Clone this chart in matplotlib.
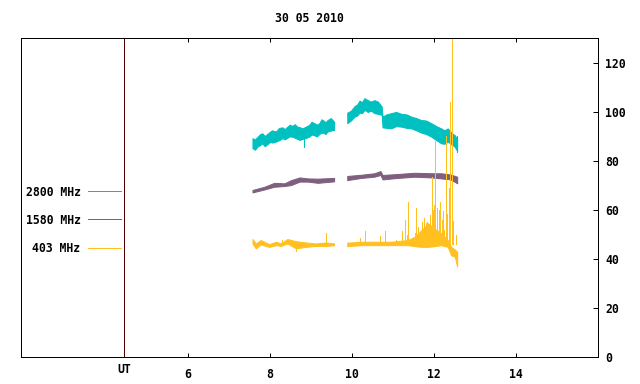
import matplotlib
matplotlib.use("Agg")
import matplotlib.pyplot as plt
from matplotlib.lines import Line2D
from matplotlib.transforms import blended_transform_factory

# ---------------- data ----------------
title = "30 05 2010"
series_names = ["2800 MHz", "1580 MHz", "403 MHz"]
series_colors = ["#00c0c0", "#7f5f7f", "#ffc020"]

xticks = [6, 8, 10, 12, 14]
yticks = [0, 20, 40, 60, 80, 100, 120]
ut_time = 4.45

# 2800 MHz noisy band: two segments (time, upper, lower)
c1_t = [7.57, 7.63, 7.70, 7.76, 7.81, 7.87, 7.93, 8.00, 8.05, 8.14, 8.22, 8.30, 8.36, 8.42, 8.48,
        8.54, 8.60, 8.66, 8.72, 8.79, 8.87, 8.95, 9.01, 9.07, 9.14, 9.20, 9.25, 9.30, 9.35, 9.40, 9.48, 9.56]
c1_hi = [89.3, 88.8, 90.0, 91.0, 91.3, 90.2, 91.0, 92.0, 92.5, 92.0, 93.5, 93.7, 93.0, 94.0, 94.8,
         94.3, 95.0, 94.0, 93.8, 93.3, 94.0, 94.7, 96.0, 95.5, 94.8, 95.4, 97.0, 96.5, 95.8, 96.7, 97.5, 96.0]
c1_lo = [85.2, 84.6, 86.0, 86.5, 87.2, 86.0, 86.8, 87.8, 87.5, 87.9, 88.5, 89.3, 88.8, 89.5, 90.0,
         89.9, 89.5, 89.0, 88.6, 89.0, 89.4, 89.9, 90.8, 90.5, 90.0, 91.0, 91.5, 91.5, 91.0, 92.0, 92.4, 92.7]
c2_t = [9.88, 9.97, 10.06, 10.12, 10.18, 10.24, 10.30, 10.38, 10.46, 10.54, 10.63, 10.72, 10.74, 10.84,
        10.95, 11.07, 11.20, 11.32, 11.44, 11.56, 11.68, 11.80, 11.93, 12.05, 12.17, 12.25, 12.33, 12.42, 12.50, 12.56]
c2_hi = [99.7, 100.5, 102.4, 103.0, 104.6, 104.0, 105.6, 104.8, 104.2, 104.8, 104.2, 102.2, 98.1, 99.0,
         99.5, 100.0, 99.2, 99.0, 98.1, 97.5, 96.7, 96.5, 95.4, 94.2, 93.3, 92.5, 93.3, 91.5, 90.5, 89.0]
c2_lo = [95.4, 96.5, 98.1, 98.5, 99.7, 99.5, 100.8, 100.0, 100.5, 99.5, 99.2, 98.8, 93.7, 93.5,
         93.3, 94.2, 94.0, 93.5, 93.3, 92.5, 91.6, 91.0, 89.9, 88.5, 87.2, 87.0, 87.9, 86.8, 85.8, 84.0]
c_spike_t = [8.82, 12.55]
c_spike_v = [85.8, 83.8]
c_spike_base = 90.0

# 1580 MHz band
p1_t = [7.57, 7.86, 8.10, 8.35, 8.51, 8.72, 8.92, 9.16, 9.56]
p1_hi = [68.2, 69.5, 71.1, 70.9, 72.2, 73.3, 72.9, 72.8, 73.1]
p1_lo = [67.2, 68.4, 69.5, 69.8, 70.2, 71.6, 71.6, 71.1, 71.7]
p2_t = [9.88, 10.22, 10.54, 10.69, 10.74, 11.11, 11.52, 11.93, 12.17, 12.40, 12.56]
p2_hi = [73.9, 74.4, 75.0, 75.9, 74.3, 74.7, 75.2, 75.0, 75.0, 74.5, 73.6]
p2_lo = [72.2, 73.1, 73.6, 74.3, 72.5, 73.1, 73.6, 73.3, 72.9, 72.5, 70.9]

# 403 MHz band
y1_t = [7.57, 7.65, 7.77, 7.98, 8.14, 8.26, 8.42, 8.63, 8.87, 9.11, 9.36, 9.56]
y1_hi = [48.2, 46.4, 47.8, 46.1, 47.1, 46.4, 48.2, 47.3, 46.8, 46.4, 46.8, 46.4]
y1_lo = [46.4, 44.4, 46.0, 45.0, 45.7, 45.4, 46.4, 44.4, 45.0, 45.4, 45.4, 45.7]
y2_t = [9.88, 10.22, 10.54, 10.95, 11.36, 11.52, 11.70, 11.85, 12.01, 12.17, 12.33, 12.41, 12.50, 12.56]
y2_hi = [46.7, 47.1, 47.1, 47.1, 47.8, 49.1, 52.0, 54.6, 52.5, 50.5, 47.8, 45.0, 44.0, 43.0]
y2_lo = [45.3, 45.7, 45.7, 45.7, 45.7, 45.3, 45.0, 45.0, 45.3, 45.7, 45.0, 41.6, 41.0, 37.0]
# 403 MHz bursts (time, peak)
y_spike_t = [8.30, 8.63, 9.36, 10.18, 10.32, 10.69, 10.81, 11.07, 11.21, 11.28, 11.33, 11.37,
             11.46, 11.52, 11.55, 11.60, 11.66, 11.70, 11.74, 11.79, 11.83, 11.87, 11.90, 11.94, 11.97,
             12.00, 12.03, 12.07, 12.11, 12.15, 12.18, 12.22, 12.25, 12.28, 12.32, 12.36, 12.38,
             12.43, 12.47, 12.54]
y_spike_v = [48.0, 43.3, 50.5, 48.7, 51.6, 49.4, 51.4, 47.8, 51.4, 55.9, 49.8, 63.1,
             48.4, 50.5, 60.7, 53.2, 49.1, 55.0, 56.6, 54.6, 55.2, 52.5, 58.0, 73.3, 60.0,
             62.0, 88.0, 60.7, 60.0, 63.4, 55.9, 59.6, 51.8, 90.0, 58.6, 68.8, 104.0,
             135.0, 55.6, 49.8]
y_spike_base = 46.0

# ---------------- figure ----------------
W, H = 640, 384
fig = plt.figure(figsize=(W / 100, H / 100), dpi=100)
ax = fig.add_axes([20.7 / W, 1 - 357.3 / H, (598.3 - 20.7) / W, (357.3 - 38.3) / H])
ax.set_xlim(1.92, 16.0)
ax.set_ylim(0, 130)

font = dict(family="DejaVu Sans Mono", weight="bold", size=8.3)
px = 0.72  # one pixel in points

def band(t, hi, lo, color):
    ax.fill_between(t, lo, hi, color=color, linewidth=px, edgecolor=color)

band(c1_t, c1_hi, c1_lo, series_colors[0])
band(c2_t, c2_hi, c2_lo, series_colors[0])
ax.vlines(c_spike_t, c_spike_base, c_spike_v, color=series_colors[0], linewidth=px, antialiased=False)
band(p1_t, p1_hi, p1_lo, series_colors[1])
band(p2_t, p2_hi, p2_lo, series_colors[1])
band(y1_t, y1_hi, y1_lo, series_colors[2])
band(y2_t, y2_hi, y2_lo, series_colors[2])
ax.vlines(y_spike_t, y_spike_base, y_spike_v, color=series_colors[2], linewidth=px,
          antialiased=False)

ax.axvline(ut_time, color="#500000", linewidth=px)

for s in ax.spines.values():
    s.set_linewidth(px)
    s.set_color("black")

ax.set_xticks(xticks)
ax.set_xticklabels([str(v) for v in xticks], **font)
ax.tick_params(axis="x", direction="in", length=4 * px, width=px, top=True, bottom=True, pad=8)
ax.yaxis.tick_right()
ax.set_yticks(yticks)
ax.set_yticklabels([str(v) for v in yticks], **font)
ax.tick_params(axis="y", direction="in", length=5 * px, width=px, left=False, right=True, pad=5)

trans = blended_transform_factory(ax.transData, fig.transFigure)
ax.text(ut_time, 1 - 369.3 / H, "UT", transform=trans, ha="center", va="center", **font)

fig.text(309.5 / W, 1 - 18 / H, title, ha="center", va="center", **font)

leg_y = [192.0, 220.0, 248.5]
for name, col, yy in zip(series_names, series_colors, leg_y):
    fig.text(80.5 / W, 1 - yy / H, name, ha="right", va="center", **font)
    fig.add_artist(Line2D([88 / W, 121 / W], [1 - (yy - 0.7) / H] * 2, color=col,
                          linewidth=px, transform=fig.transFigure))

fig.savefig("out.png", dpi=100)
